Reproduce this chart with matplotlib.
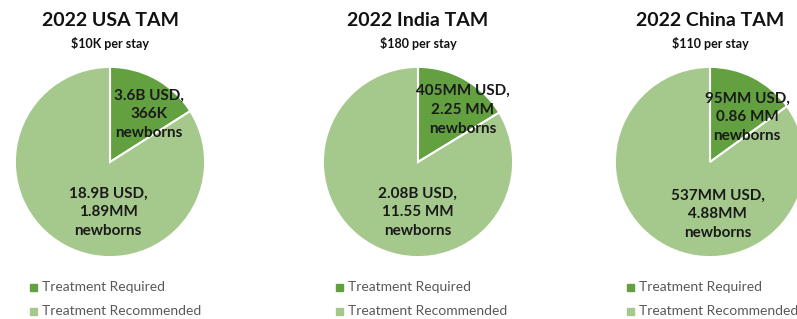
import matplotlib.pyplot as plt
from matplotlib.patches import Rectangle

plt.rcParams["font.family"] = ["Lato", "DejaVu Sans"]

regions = ["USA", "India", "China"]
per_stay = ["$10K per stay", "$180 per stay", "$110 per stay"]
required_usd = [3.6, 0.405, 0.095]       # billions USD
recommended_usd = [18.9, 2.08, 0.537]    # billions USD
required_labels = [
    "3.6B USD,\n366K\nnewborns",
    "405MM USD,\n2.25 MM\nnewborns",
    "95MM USD,\n0.86 MM\nnewborns",
]
recommended_labels = [
    "18.9B USD,\n1.89MM\nnewborns",
    "2.08B USD,\n11.55 MM\nnewborns",
    "537MM USD,\n4.88MM\nnewborns",
]
categories = ["Treatment Required", "Treatment Recommended"]

DARK = "#62a040"
LIGHT = "#a5c88c"
W, H = 797, 319

# pixel layout: pie centers, radius, label offsets (data units)
centers = [(110, 162), (418, 162), (710, 162)]
radius = 97
small_pos = [(0.41, 0.50), (0.47, 0.55), (0.39, 0.47)]
big_pos = [(-0.02, -0.53), (0.0, -0.53), (0.08, -0.55)]
legend_x = [30, 336, 627]

fig = plt.figure(figsize=(W / 100, H / 100), dpi=100)

for i, region in enumerate(regions):
    cx, cy = centers[i]
    ax = fig.add_axes([(cx - radius) / W, (H - cy - radius) / H,
                       2 * radius / W, 2 * radius / H])
    wedges, _ = ax.pie([required_usd[i], recommended_usd[i]],
                       colors=[DARK, LIGHT], startangle=90, counterclock=False,
                       radius=1, wedgeprops=dict(edgecolor="white", linewidth=1.5))
    ax.set_xlim(-1.02, 1.02)
    ax.set_ylim(-1.02, 1.02)
    ax.set_aspect("equal")
    ax.axis("off")

    ax.text(*small_pos[i], required_labels[i], ha="center", va="center",
            fontsize=11, fontweight="bold", color="#1a1a1a", linespacing=1.45,
            clip_on=False)
    ax.text(*big_pos[i], recommended_labels[i], ha="center", va="center",
            fontsize=11, fontweight="bold", color="#1a1a1a", linespacing=1.45)

    fig.text(cx / W, 1 - 20 / H, f"2022 {region} TAM", ha="center", va="center",
             fontsize=14, fontweight="bold", color="#111111")
    fig.text(cx / W, 1 - 43 / H, per_stay[i], ha="center", va="center",
             fontsize=9, fontweight="bold", color="#111111")

    for j, (label, color) in enumerate(zip(categories, [DARK, LIGHT])):
        y = 287 + 24 * j
        fig.patches.append(Rectangle((legend_x[i] / W, 1 - (y + 3.5) / H),
                                     7 / W, 7 / H, color=color,
                                     transform=fig.transFigure, figure=fig))
        fig.text((legend_x[i] + 12) / W, 1 - y / H, label, ha="left", va="center",
                 fontsize=10, color="#595959")

fig.savefig("out.png", dpi=100)
